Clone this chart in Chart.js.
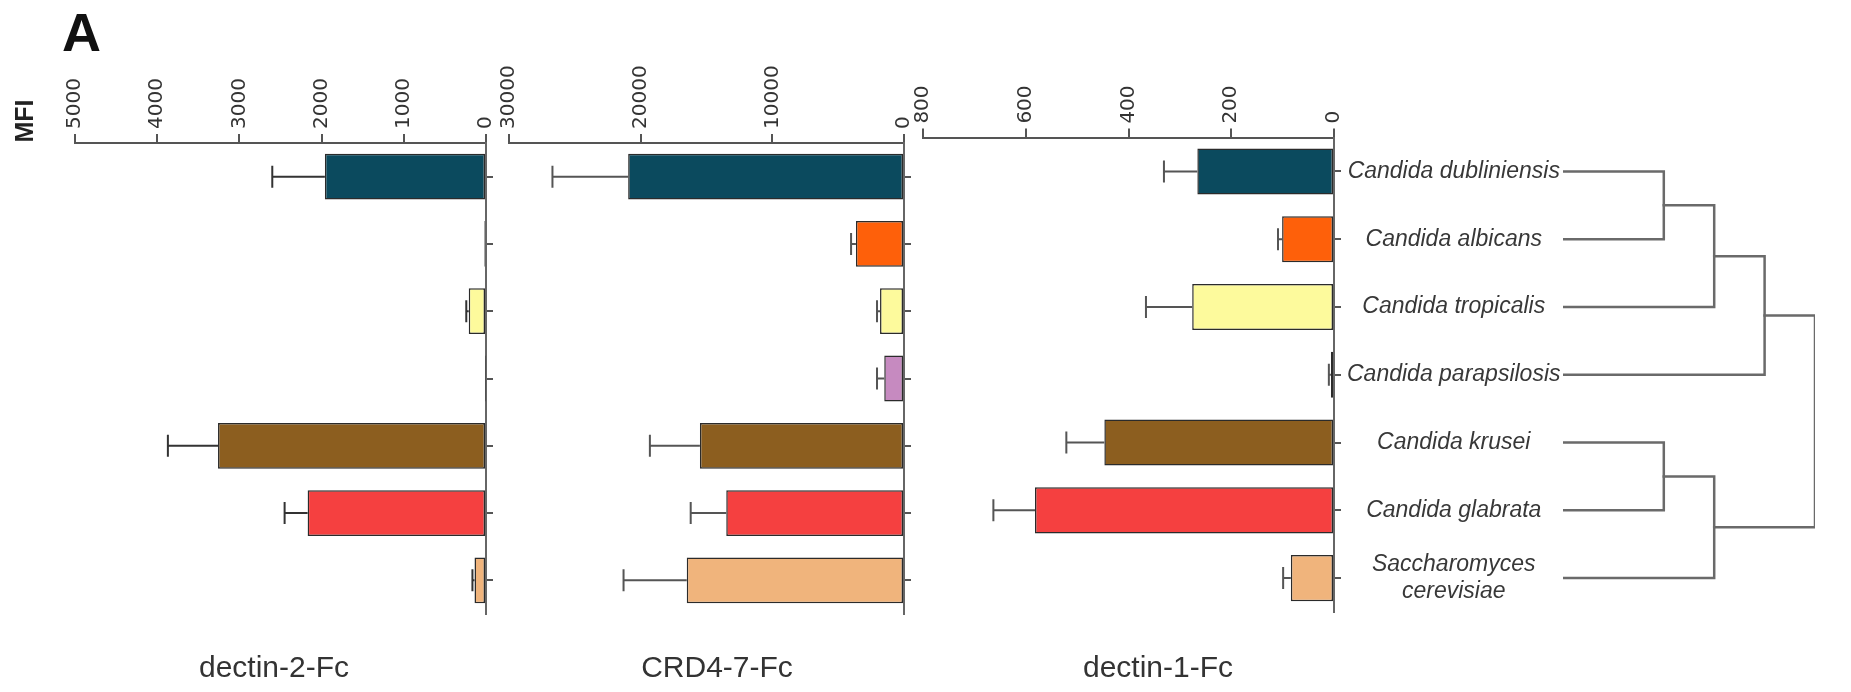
<!DOCTYPE html>
<html lang="en">
<head>
  <meta charset="UTF-8">
  <title>MFI by Fc-lectin and species</title>
  <script src="https://cdn.jsdelivr.net/npm/chart.js"></script>
  <style>
    body { margin: 0; background: #fff; width: 1851px; height: 692px; overflow: hidden; position: relative; font-family: "Liberation Sans", Arial, sans-serif; }
    canvas { position: absolute; left: 0; top: 0; }
    .txt { position: absolute; line-height: 1; color: #2a2a2a; white-space: nowrap; }
    .title { font-size: 30px; transform: translateX(-50%); top: 652px; color: #333; }
  </style>
</head>
<body>
  <canvas id="c1" width="1851" height="692"></canvas>
  <canvas id="c2" width="1851" height="692"></canvas>
  <canvas id="c3" width="1851" height="692"></canvas>
  <canvas id="c4" width="1851" height="692"></canvas>

  <div class="txt" style="left:62px;top:5px;font-size:54px;font-weight:bold;color:#111">A</div>
  <div class="txt" style="left:24px;top:121px;font-size:25px;font-weight:bold;color:#222;transform:translate(-50%,-50%) rotate(-90deg)">MFI</div>
  <div class="txt title" style="left:274px">dectin-2-Fc</div>
  <div class="txt title" style="left:717px">CRD4-7-Fc</div>
  <div class="txt title" style="left:1158px">dectin-1-Fc</div>

  <script>
    // species, top to bottom
    const categories = ['Candida dubliniensis', 'Candida albicans', 'Candida tropicalis',
      'Candida parapsilosis', 'Candida krusei', 'Candida glabrata', ['Saccharomyces', 'cerevisiae']];
    const barColors = ['#0b4a5e', '#fe600a', '#fdfa9c', '#c68ac0', '#8c5e1f', '#f54040', '#f0b47c'];

    const dectin2Values = [1960, 20, 210, 5, 3260, 2170, 140];
    const dectin2Errors = [640, 0, 30, 0, 610, 280, 25];
    const dectin2Ticks = [0, 1000, 2000, 3000, 4000, 5000];

    const crdValues = [20950, 3650, 1820, 1500, 15500, 13500, 16500];
    const crdErrors = [5750, 370, 230, 550, 3800, 2700, 4800];
    const crdTicks = [0, 10000, 20000, 30000];

    const dectin1Values = [266, 101, 276, 6, 447, 582, 84];
    const dectin1Errors = [65, 8, 90, 4, 74, 81, 15];
    const dectin1Ticks = [0, 200, 400, 600, 800];

    // dendrogram: [child a, child b, merge height]; new nodes get index 7, 8, ...
    const treeMerges = [[0, 1, 2], [7, 2, 3], [8, 3, 4], [4, 5, 2], [10, 6, 3], [9, 11, 5]];

    Chart.defaults.font.family = '"Liberation Sans", Arial, sans-serif';

    const W = 1851, H = 692;

    const errorBars = {
      id: 'errorBars',
      afterDatasetsDraw(chart, args, opts) {
        const ctx = chart.ctx;
        const xs = chart.scales.x;
        const vals = chart.data.datasets[0].data;
        ctx.save();
        ctx.strokeStyle = opts.color;
        ctx.lineWidth = 2;
        chart.getDatasetMeta(0).data.forEach((bar, i) => {
          const err = opts.errors[i];
          if (!err) return;
          const x0 = xs.getPixelForValue(vals[i]);
          const x1 = xs.getPixelForValue(vals[i] + err);
          ctx.beginPath();
          ctx.moveTo(x0, bar.y); ctx.lineTo(x1, bar.y);
          ctx.moveTo(x1, bar.y - 11); ctx.lineTo(x1, bar.y + 11);
          ctx.stroke();
        });
        ctx.restore();
      }
    };

    function panel(id, values, errors, ticks, area, yWidth, showLabels, errColor) {
      return new Chart(document.getElementById(id), {
        type: 'bar',
        data: {
          labels: categories,
          datasets: [{
            data: values,
            backgroundColor: barColors,
            borderColor: '#2b2b2b',
            borderWidth: 1.5,
            borderSkipped: false,
            barPercentage: 0.68,
            categoryPercentage: 1
          }]
        },
        options: {
          indexAxis: 'y',
          responsive: false,
          animation: false,
          layout: { padding: { left: area.left, top: 0, right: W - area.right - yWidth, bottom: H - area.bottom } },
          plugins: {
            legend: { display: false },
            tooltip: { enabled: false },
            errorBars: { errors: errors, color: errColor }
          },
          scales: {
            x: {
              type: 'linear',
              position: 'top',
              reverse: true,
              min: ticks[0],
              max: ticks[ticks.length - 1],
              afterBuildTicks: s => { s.ticks = ticks.map(v => ({ value: v })); },
              afterFit: s => { s.height = area.top; },
              ticks: {
                autoSkip: false, minRotation: 90, maxRotation: 90, padding: 5, labelOffset: 24,
                color: '#333', font: { family: '"DejaVu Sans"', size: 20 },
                callback: v => String(v)
              },
              grid: { drawOnChartArea: false, tickLength: 9, color: '#555', lineWidth: 2 },
              border: { display: true, color: '#555', width: 2 }
            },
            y: {
              position: 'right',
              offset: true,
              afterFit: s => { s.width = yWidth; },
              ticks: {
                display: showLabels, crossAlign: 'center', padding: 6,
                color: '#383838', font: { style: 'italic', size: 23 }
              },
              grid: { offset: false, drawOnChartArea: false, tickLength: 7, color: '#555', lineWidth: 2 },
              border: { display: true, color: '#666', width: 2 }
            }
          }
        },
        plugins: [errorBars]
      });
    }

    panel('c1', dectin2Values, dectin2Errors, dectin2Ticks,
      { left: 75, right: 486, top: 143, bottom: 614 }, 20, false, '#333');
    panel('c2', crdValues, crdErrors, crdTicks,
      { left: 509, right: 904, top: 143, bottom: 614 }, 20, false, '#555');
    panel('c3', dectin1Values, dectin1Errors, dectin1Ticks,
      { left: 923, right: 1334, top: 137.6, bottom: 612 }, 240, true, '#555');

    // dendrogram brackets built from the merge list
    const nodeY = categories.map((c, i) => i);
    const nodeH = categories.map(() => 0);
    const treeSets = treeMerges.map(([a, b, h]) => {
      nodeY.push((nodeY[a] + nodeY[b]) / 2);
      nodeH.push(h);
      return {
        data: [
          { x: nodeH[a], y: nodeY[a] }, { x: h, y: nodeY[a] },
          { x: h, y: nodeY[b] }, { x: nodeH[b], y: nodeY[b] }
        ],
        showLine: true,
        borderColor: '#6a6a6a',
        borderWidth: 2.5,
        borderCapStyle: 'square',
        borderJoinStyle: 'miter',
        pointRadius: 0,
        tension: 0
      };
    });

    new Chart(document.getElementById('c4'), {
      type: 'scatter',
      data: { datasets: treeSets },
      options: {
        responsive: false,
        animation: false,
        layout: { padding: { left: 1563, right: W - 1815, top: 137.6, bottom: H - 612 } },
        plugins: { legend: { display: false }, tooltip: { enabled: false } },
        scales: {
          x: { type: 'linear', min: 0, max: 5, display: false },
          y: { type: 'linear', min: -0.5, max: categories.length - 0.5, reverse: true, display: false }
        }
      }
    });
  </script>
</body>
</html>
